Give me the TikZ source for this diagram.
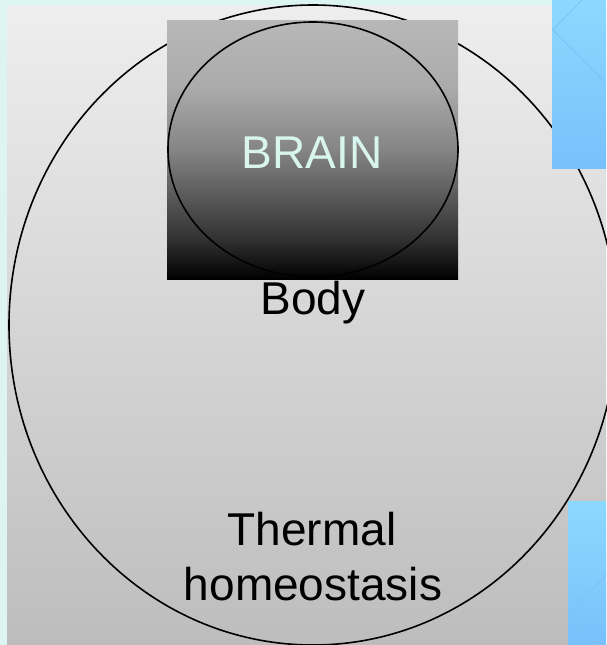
\documentclass[tikz,border=0pt]{standalone}
\usepackage{fontspec}
\setmainfont{Liberation Sans}
\usetikzlibrary{shapes.geometric}
\definecolor{bgcyan}{RGB}{220,245,241}
\definecolor{panelTop}{RGB}{238,238,238}
\definecolor{panelBot}{RGB}{189,189,189}
\definecolor{blueTop}{RGB}{141,216,255}
\definecolor{blueBot}{RGB}{120,192,250}
\definecolor{blueLine}{RGB}{128,192,245}
\definecolor{braintext}{RGB}{216,245,238}
\pgfdeclareverticalshading{brainsh}{100bp}{color(0bp)=(black); color(25bp)=(black); color(33bp)=(black!80!white); color(50bp)=(black!48!white); color(62bp)=(black!33!white); color(75bp)=(black!28!white); color(100bp)=(black!28!white)}
\tikzset{
  lbl/.style={font=\fontsize{46}{55}\selectfont, anchor=base, inner sep=0pt},
  outline/.style={draw=black, line width=1.6pt, ellipse, inner sep=0pt},
  bluebox/.style={top color=blueTop, bottom color=blueBot, draw=none},
  blueline/.style={draw=blueLine, line width=0.8pt}
}
\begin{document}
\begin{tikzpicture}[x=1pt,y=-1pt]
\useasboundingbox (0,0) rectangle (606,645);
\fill[bgcyan] (0,0) rectangle (606,645);
\shade[top color=panelTop, bottom color=panelBot] (7,5) rectangle (606,645);
% body ellipse
\node[outline, minimum width=608pt, minimum height=640pt] (body) at (313,325) {};
% brain box
\shade[shading=brainsh] (167,20) rectangle (458,279);
\node[outline, minimum width=290pt, minimum height=255pt] (brain) at (313,149.5) {};
% blue boxes
\begin{scope}
\clip (552,0) rectangle (606,168);
\fill[bluebox] (552,0) rectangle (606,168);
\draw[blueline] (583,-1) -- (552.7,30) -- (608,85);
\end{scope}
\begin{scope}
\clip (568,501) rectangle (606,645);
\fill[bluebox] (568,501) rectangle (606,645);
\draw[blueline] (608,573) -- (569,614) -- (608,653);
\end{scope}
% labels
\node[lbl, text=braintext] (brainlbl) at (312,168) {BRAIN};
\node[lbl] (bodylbl) at (313,314) {Body};
\node[lbl] (thermal) at (312,545) {Thermal};
\node[lbl] (homeo) at (313,600) {homeostasis};
\end{tikzpicture}
\end{document}
